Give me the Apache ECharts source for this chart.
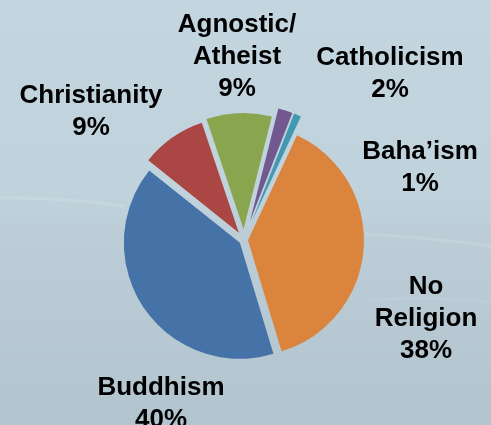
<!DOCTYPE html>
<html>
<head>
<meta charset="utf-8">
<script src="https://cdn.jsdelivr.net/npm/echarts@6/dist/echarts.min.js"></script>
<style>
  html, body { margin: 0; padding: 0; width: 491px; height: 425px; overflow: hidden; }
  #chart { width: 491px; height: 425px; }
</style>
</head>
<body>
<div id="chart"></div>
<script>
// Religious affiliation, share of respondents (%)
const categories = ['No\nReligion', 'Buddhism', 'Christianity', 'Agnostic/\nAtheist', 'Catholicism', 'Baha’ism'];
const shares = [38, 40, 9, 9, 2, 1];

// Styling: slice colours, explode distance (px) and label anchor points (px)
const sliceColors = ['#DB843D', '#4572A7', '#AA4643', '#89A54E', '#71588F', '#4198AF'];
const explodeBy = [4, 5, 9, 11, 20, 20];
const labelAnchors = [[426, 319], [161, 404], [91, 112], [237, 57], [390, 74], [420, 168]];

const chart = echarts.init(document.getElementById('chart'), null, { renderer: 'canvas' });

// One pie layer per slice so each slice can be pulled out by its own distance;
// every layer shares the same layout and only paints its own slice.
const series = categories.map((_, k) => ({
  type: 'pie',
  center: [244, 240],
  radius: 116,
  startAngle: 65,
  clockwise: true,
  avoidLabelOverlap: false,
  selectedMode: 'multiple',
  selectedOffset: explodeBy[k],
  silent: true,
  animation: false,
  emphasis: { disabled: true },
  itemStyle: { borderWidth: 0 },
  label: { show: false },
  labelLine: { show: false },
  data: categories.map((name, i) => ({
    name: name,
    value: shares[i],
    selected: i === k,
    itemStyle: { color: i === k ? sliceColors[i] : 'rgba(0,0,0,0)' }
  }))
}));

// Category labels: name and value, lines centred on each anchor
const labelFont = 'bold 26px "Liberation Sans", Arial, sans-serif';
const labels = categories.map((name, i) => ({
  type: 'text',
  silent: true,
  z: 10,
  style: {
    text: name + '\n' + shares[i] + '%',
    x: labelAnchors[i][0],
    y: labelAnchors[i][1],
    align: 'center',
    verticalAlign: 'middle',
    font: labelFont,
    lineHeight: 32,
    fill: '#000000'
  }
}));

// Faint light streaks across the backdrop
const streaks = [
  { x1: 0, y1: 198, cpx1: 60, cpy1: 197, x2: 125, y2: 206 },
  { x1: 365, y1: 234, cpx1: 430, cpy1: 238, x2: 491, y2: 246 },
  { x1: 365, y1: 300, cpx1: 430, cpy1: 296, x2: 491, y2: 302 }
].map((shape, i) => ({
  type: 'bezierCurve',
  silent: true,
  z: -1,
  shape: shape,
  style: {
    stroke: i === 2 ? 'rgba(255,255,255,0.07)' : 'rgba(255,255,255,0.12)',
    lineWidth: 3,
    shadowBlur: 5,
    shadowColor: 'rgba(255,255,255,0.25)',
    fill: null
  }
}));

chart.setOption({
  backgroundColor: new echarts.graphic.LinearGradient(0, 0, 0, 1, [
    { offset: 0, color: '#c3d5df' },
    { offset: 0.45, color: '#c0d3dd' },
    { offset: 0.55, color: '#bccdd7' },
    { offset: 1, color: '#b2c4ce' }
  ]),
  animation: false,
  graphic: { elements: streaks.concat(labels) },
  series: series
});
</script>
</body>
</html>
